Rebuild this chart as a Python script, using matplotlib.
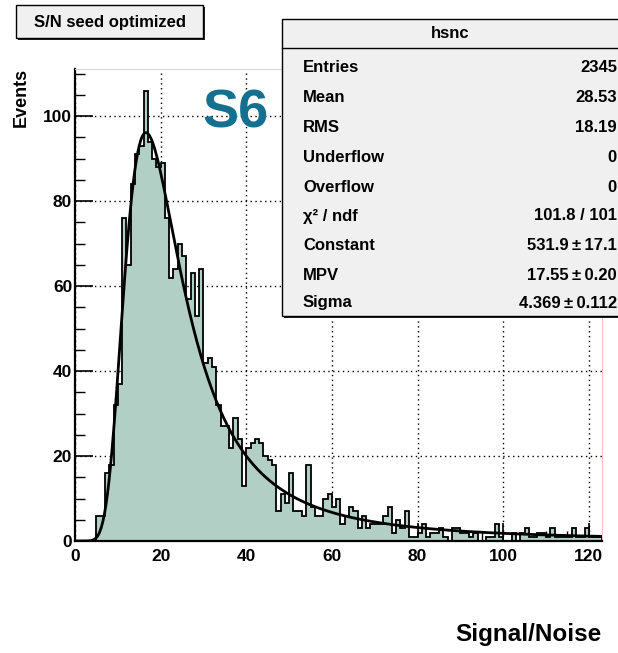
import numpy as np
import matplotlib
matplotlib.use("Agg")
import matplotlib.pyplot as plt
from matplotlib.patches import Rectangle
from matplotlib.ticker import MultipleLocator

# ---- data ----
bin_edges_range = (0, 123)
counts = [0, 0, 0, 0, 0,
          6, 6, 16, 18, 32,
          37, 76, 65, 84, 91,
          93, 106, 94, 90, 88,
          89, 76, 62, 64, 70,
          67, 57, 63, 53, 64,
          42, 43, 41, 32, 27,
          27, 22, 29, 24, 13,
          22, 23, 24, 23, 20,
          19, 18, 7, 11, 9,
          16, 7, 7, 6, 18,
          8, 6, 6, 10, 11,
          8, 10, 4, 6, 8,
          7, 3, 6, 3, 4,
          4, 4, 6, 8, 2,
          5, 3, 7, 1, 1,
          2, 4, 1, 2, 2,
          3, 1, 0, 3, 3,
          2, 2, 1, 2, 0,
          0, 1, 1, 4, 1,
          0, 0, 2, 0, 2,
          3, 1, 1, 2, 2,
          1, 3, 1, 1, 1,
          1, 3, 1, 1, 3,
          1, 1, 1]
fit_constant = 531.9
fit_mpv = 17.55
fit_sigma = 4.369
stat_labels = ["Entries", "Mean", "RMS", "Underflow", "Overflow",
               "\u03c7\u00b2 / ndf", "Constant", "MPV", "Sigma"]
stat_values = ["2345", "28.53", "18.19", "0", "0", "101.8 / 101",
               "531.9\u2009\u00b1\u200917.1", "17.55\u2009\u00b1\u20090.20",
               "4.369\u2009\u00b1\u20090.112"]
x_ticks = [0, 20, 40, 60, 80, 100, 120]
y_ticks = [0, 20, 40, 60, 80, 100]

plt.rcParams['font.family'] = ["Liberation Sans", "DejaVu Sans"]

def landau(lam):
    t = np.linspace(1e-9, 40, 40001)
    out = np.empty_like(lam)
    for i, l in enumerate(lam):
        f = np.exp(-np.pi * t / 2) * np.cos(t * l + t * np.log(t))
        out[i] = np.trapezoid(f, t) / np.pi
    return out

W, H = 618, 653
fig = plt.figure(figsize=(W / 100, H / 100), dpi=100)
ax_l, ax_r, ax_t, ax_b = 75, 601.7, 69.3, 541
ax = fig.add_axes([ax_l / W, 1 - ax_b / H, (ax_r - ax_l) / W, (ax_b - ax_t) / H])

nb = len(counts)
edges = np.linspace(bin_edges_range[0], bin_edges_range[1], nb + 1)
fillc = "#b2cfc6"
ax.stairs(counts, edges, fill=True, color=fillc, zorder=2)
ax.stairs(counts, edges, fill=False, color="black", lw=1.3, zorder=3, baseline=0)

xc = np.linspace(0, 123, 700)
yc = fit_constant * landau((xc - fit_mpv) / fit_sigma)
ax.plot(xc, yc, color="black", lw=2, zorder=4)

ax.set_xlim(0, 123)
ax.set_ylim(0, 111)
ax.set_xticks(x_ticks)
ax.set_yticks(y_ticks)
ax.xaxis.set_minor_locator(MultipleLocator(5))
ax.yaxis.set_minor_locator(MultipleLocator(5))
ax.grid(True, which='major', color='black', linestyle=(0, (1, 2.5)), lw=1, zorder=1)
ax.set_axisbelow(True)
ax.tick_params(axis='both', which='major', direction='in', length=13, width=1.2,
               labelsize=12.5, top=False, right=False)
ax.tick_params(axis='both', which='minor', direction='in', length=7, width=1,
               top=False, right=False)
ax.tick_params(axis='x', pad=6)
ax.tick_params(axis='y', pad=2)
for lab in ax.get_xticklabels() + ax.get_yticklabels():
    lab.set_fontweight('bold')
for s in ['left', 'bottom']:
    ax.spines[s].set_linewidth(1.6)
ax.spines['top'].set_color('#d8d8d8')
ax.spines['right'].set_color('#f0c8c8')

# axis titles
fig.text(21 / W, 1 - 68 / H, "Events", rotation=90, ha='center', va='top',
         fontsize=13, fontweight='bold')
fig.text(602 / W, 1 - 641 / H, "Signal/Noise", ha='right', va='baseline',
         fontsize=17.5, fontweight='bold')

# S6 label
fig.text(203 / W, 1 - 128 / H, "S6", ha='left', va='baseline', fontsize=39,
         fontweight='bold', color='#14708e')

# boxes
def box(x0, y0, x1, y1, sh=3):
    fig.patches.append(Rectangle(((x0 + sh) / W, 1 - (y1 + sh) / H), (x1 - x0) / W, (y1 - y0) / H,
                                 transform=fig.transFigure, facecolor='#222222',
                                 edgecolor='none', zorder=10))
    fig.patches.append(Rectangle((x0 / W, 1 - y1 / H), (x1 - x0) / W, (y1 - y0) / H,
                                 transform=fig.transFigure, facecolor='#f0f0f0',
                                 edgecolor='black', lw=1, zorder=11))

box(16, 5, 203, 38, sh=2)
fig.text(110 / W, 1 - 22 / H, "S/N seed optimized", ha='center', va='center',
         fontsize=12, fontweight='bold', zorder=12)

# stats box
box(282, 19, 621, 316, sh=2)
fig.add_artist(plt.Line2D([282 / W, 1], [1 - 48 / H, 1 - 48 / H], color='black', lw=1,
                          transform=fig.transFigure, zorder=12))
fig.text(450 / W, 1 - 34 / H, "hsnc", ha='center', va='center', fontsize=12,
         fontweight='bold', zorder=12)
row_y = [68, 98, 128, 157, 187, 216, 246, 276, 303]
for yy, lab, val in zip(row_y, stat_labels, stat_values):
    fig.text(303 / W, 1 - yy / H, lab, ha='left', va='center', fontsize=12,
             fontweight='bold', zorder=12)
    fig.text(617 / W, 1 - yy / H, val, ha='right', va='center', fontsize=12,
             fontweight='bold', zorder=12)

fig.savefig("out.png", dpi=100)
